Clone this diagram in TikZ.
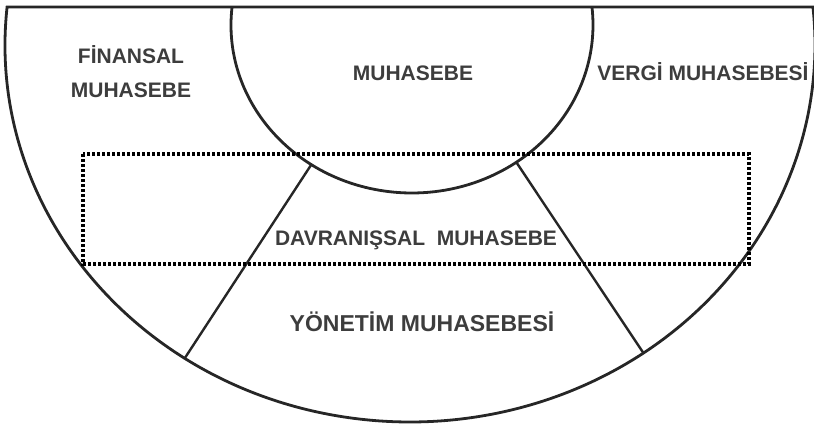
\documentclass[tikz,border=0pt]{standalone}
\usepackage{fontspec}
\setmainfont{Liberation Sans}

\begin{document}
\begin{tikzpicture}[x=1pt,y=1pt,
  rim/.style={draw=black!85,line width=2.8pt},
  dotbox/.style={draw=black,line width=3.2pt,dash pattern=on 3pt off 2pt},
  lbl/.style={anchor=base,inner sep=0pt,align=center,text=black!76,font=\bfseries\fontsize{21}{34}\selectfont}]
\useasboundingbox (0,0) rectangle (814,-426);
\coordinate (oc) at (410,-45);
\coordinate (ic) at (412,-25);
% dis yarim daire
\draw[rim] (oc) ++(174.2:405pt and 377pt) arc[start angle=174.2,end angle=365.8,x radius=405pt,y radius=377pt] -- cycle;
% ic daire (muhasebe)
\draw[rim] (ic) ++(173.85:181pt and 168pt) arc[start angle=173.85,end angle=366.15,x radius=181pt,y radius=168pt];
\path (oc) ++(236.2:405pt and 377pt) coordinate (solalt);
\path (ic) ++(236.2:181pt and 168pt) coordinate (solust);
\path (oc) ++(305.2:405pt and 377pt) coordinate (sagalt);
\path (ic) ++(305.2:181pt and 168pt) coordinate (sagust);
\draw[rim,line width=2.4pt] (solalt) -- (solust);
\draw[rim,line width=2.4pt] (sagalt) -- (sagust);
% davranissal kutu
\coordinate (kutuA) at (83,-154);
\coordinate (kutuB) at (749,-264);
\draw[dotbox] (kutuA) rectangle (kutuB);
\node[lbl] (finansal) at (131,-97) {FİNANSAL\\MUHASEBE};
\node[lbl] (muhasebe) at (413,-80) {MUHASEBE};
\node[lbl] (vergi) at (703,-80) {VERGİ MUHASEBESİ};
\node[lbl] (davranis) at (416,-245) {DAVRANIŞSAL\ \ MUHASEBE};
\node[lbl,font=\bfseries\fontsize{23}{34}\selectfont] (yonetim) at (422,-331) {YÖNETİM MUHASEBESİ};
\end{tikzpicture}
\end{document}
